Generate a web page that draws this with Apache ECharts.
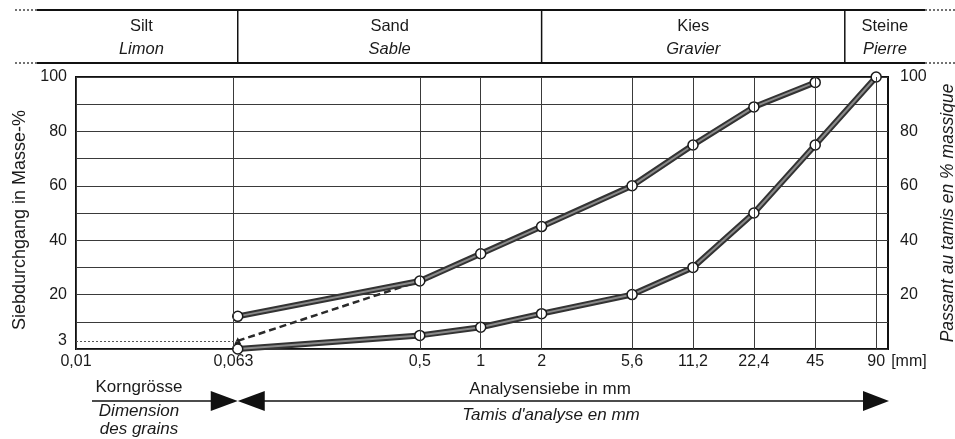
<!DOCTYPE html>
<html><head><meta charset="utf-8">
<script src="https://cdn.jsdelivr.net/npm/echarts@6/dist/echarts.min.js"></script>
<style>html,body{margin:0;padding:0;background:#fff}#c{width:955px;height:439px}</style>
</head><body><div id="c"></div>
<script>
// ---- data ----
const tickValues = [0.01, 0.063, 0.5, 1, 2, 5.6, 11.2, 22.4, 45, 90];
const tickLabels = ['0,01', '0,063', '0,5', '1', '2', '5,6', '11,2', '22,4', '45', '90'];
const upperSizes = [0.063, 0.5, 1, 2, 5.6, 11.2, 22.4, 45];
const upperPassing = [12, 25, 35, 45, 60, 75, 89, 98];
const lowerSizes = [0.063, 0.5, 1, 2, 5.6, 11.2, 22.4, 45, 90];
const lowerPassing = [0, 5, 8, 13, 20, 30, 50, 75, 100];
const dashedSizes = [0.063, 0.5];
const dashedPassing = [3, 25];
const leftYLabels = [3, 20, 40, 60, 80, 100];
const rightYLabels = [20, 40, 60, 80, 100];
const soilBounds = [0.063, 2, 63];
const soilNamesDe = ['Silt', 'Sand', 'Kies', 'Steine'];
const soilNamesFr = ['Limon', 'Sable', 'Gravier', 'Pierre'];

const FONT = '"Liberation Sans", Arial, Helvetica, sans-serif';
const TXT = '#1a1a1a';
const pairs = (xs, ys) => xs.map((x, i) => [x, ys[i]]);

const chart = echarts.init(document.getElementById('c'));

const gridLineData = tickValues.map((v, i) => ({
  xAxis: v,
  label: { formatter: tickLabels[i] }
}));
gridLineData.push([
  { coord: [tickValues[0], dashedPassing[0]], lineStyle: { type: [2, 2], color: '#555', width: 1 }, label: { show: false } },
  { coord: [dashedSizes[0], dashedPassing[0]] }
]);

const option = {
  animation: false,
  grid: { left: 76, right: 67, top: 77, bottom: 90, outerBoundsMode: 'none', containLabel: false, show: true, borderColor: '#111', borderWidth: 2, backgroundColor: 'transparent' },
  xAxis: {
    type: 'log', logBase: 10, min: 0.01, max: 103,
    axisLine: { show: false }, axisTick: { show: false }, axisLabel: { show: false },
    splitLine: { show: false }, minorTick: { show: false }, minorSplitLine: { show: false }
  },
  yAxis: [{
    type: 'value', min: 0, max: 100, interval: 10, position: 'left',
    axisLine: { show: false }, axisTick: { show: false },
    axisLabel: { customValues: leftYLabels, fontSize: 16, fontFamily: FONT, color: TXT, margin: 9 },
    splitLine: { show: true, lineStyle: { color: '#3a3a3a', width: 1 } },
    name: 'Siebdurchgang in Masse-%', nameLocation: 'middle', nameRotate: 90, nameGap: 45,
    nameTextStyle: { fontSize: 18, fontFamily: FONT, color: TXT, padding: [0, 14, 0, 0] }
  }, {
    type: 'value', min: 0, max: 100, interval: 10, position: 'right',
    axisLine: { show: false }, axisTick: { show: false },
    axisLabel: { customValues: rightYLabels, fontSize: 16, fontFamily: FONT, color: TXT, margin: 12 },
    splitLine: { show: false },
    name: 'Passant au tamis en % massique', nameLocation: 'middle', nameRotate: 90, nameGap: 51,
    nameTextStyle: { fontSize: 17.5, fontFamily: FONT, fontStyle: 'italic', color: TXT }
  }],
  series: [
    {
      type: 'line', z: 2, clip: false,
      data: pairs(dashedSizes, dashedPassing).map((p, i) => i === 0
        ? { value: p, symbol: 'triangle', symbolSize: 7, itemStyle: { color: '#222' } }
        : { value: p, symbol: 'none' }),
      lineStyle: { type: [7, 4], color: '#2a2a2a', width: 2.5 },
      markLine: {
        silent: true, symbol: ['none', 'none'], animation: false,
        lineStyle: { type: 'solid', color: '#3a3a3a', width: 1 },
        label: { show: true, position: 'start', fontSize: 16, fontFamily: FONT, color: TXT, distance: 5 },
        data: gridLineData
      }
    },
    { type: 'line', z: 3, clip: false, data: pairs(upperSizes, upperPassing), symbol: 'none', lineStyle: { color: '#333', width: 6 } },
    { type: 'line', z: 3, clip: false, data: pairs(lowerSizes, lowerPassing), symbol: 'none', lineStyle: { color: '#333', width: 6 } },
    {
      type: 'line', z: 4, clip: false, data: pairs(upperSizes, upperPassing),
      symbol: 'circle', symbolSize: 10, showAllSymbol: true,
      lineStyle: { color: '#8a8a8a', width: 2 },
      itemStyle: { color: '#fff', borderColor: '#1a1a1a', borderWidth: 1.5 }
    },
    {
      type: 'line', z: 4, clip: false, data: pairs(lowerSizes, lowerPassing),
      symbol: 'circle', symbolSize: 10, showAllSymbol: true,
      lineStyle: { color: '#8a8a8a', width: 2 },
      itemStyle: { color: '#fff', borderColor: '#1a1a1a', borderWidth: 1.5 }
    }
  ]
};
chart.setOption(option);

// ---- decorations positioned from the axis scale ----
const px = v => chart.convertToPixel({ xAxisIndex: 0 }, v);
const b = soilBounds.map(px);
const gRight = 955 - 67;
const headerLeft = 37, headerRight = 925, hTop = 10, hBot = 63;
const edges = [headerLeft].concat(b, [headerRight]);

const els = [];
const line = (x1, y1, x2, y2, w, dash, color) => els.push({
  type: 'line', silent: true, shape: { x1, y1, x2, y2 },
  style: { stroke: color || '#111', lineWidth: w, lineDash: dash || null }
});
const text = (t, x, y, opts) => els.push({
  type: 'text', silent: true, x, y,
  style: Object.assign({ text: t, fontSize: 17, fontFamily: FONT, fill: TXT, textAlign: 'center', textVerticalAlign: 'middle' }, opts || {})
});

// header table
line(headerLeft, hTop, headerRight, hTop, 2);
line(headerLeft, hBot, headerRight, hBot, 2);
line(15, hTop, headerLeft, hTop, 1.5, [2, 2], '#444');
line(15, hBot, headerLeft, hBot, 1.5, [2, 2], '#444');
line(headerRight, hTop, 955, hTop, 1.5, [2, 2], '#444');
line(headerRight, hBot, 955, hBot, 1.5, [2, 2], '#444');
b.forEach(x => line(x, hTop, x, hBot, 1.5));
for (let i = 0; i < soilNamesDe.length; i++) {
  const cx = (edges[i] + edges[i + 1]) / 2 + (i === 0 ? 4 : 0);
  text(soilNamesDe[i], cx, 26, { fontSize: 16.5 });
  text(soilNamesFr[i], cx, 49, { fontSize: 16.5, fontStyle: 'italic' });
}

// [mm] unit
text('[mm]', px(90) + 15, 362, { fontSize: 16, textAlign: 'left' });

// bottom annotations
const ay = 401;
const c0 = px(0.063);
line(92, ay, c0 - 26, ay, 1.5);
line(c0 + 26, ay, gRight - 24, ay, 1.5);
els.push({ type: 'polygon', silent: true, shape: { points: [[c0 - 27, ay - 10], [c0 - 27, ay + 10], [c0, ay]] }, style: { fill: '#111' } });
els.push({ type: 'polygon', silent: true, shape: { points: [[c0 + 27, ay - 10], [c0 + 27, ay + 10], [c0, ay]] }, style: { fill: '#111' } });
els.push({ type: 'polygon', silent: true, shape: { points: [[gRight - 25, ay - 10], [gRight - 25, ay + 10], [gRight + 1, ay]] }, style: { fill: '#111' } });

text('Korngrösse', 139, 387);
text('Dimension', 139, 411, { fontStyle: 'italic' });
text('des grains', 139, 429, { fontStyle: 'italic' });
text('Analysensiebe in mm', 550, 389);
text("Tamis d'analyse en mm", 551, 415, { fontStyle: 'italic' });

chart.setOption({ graphic: { elements: els } });
</script>
</body></html>
